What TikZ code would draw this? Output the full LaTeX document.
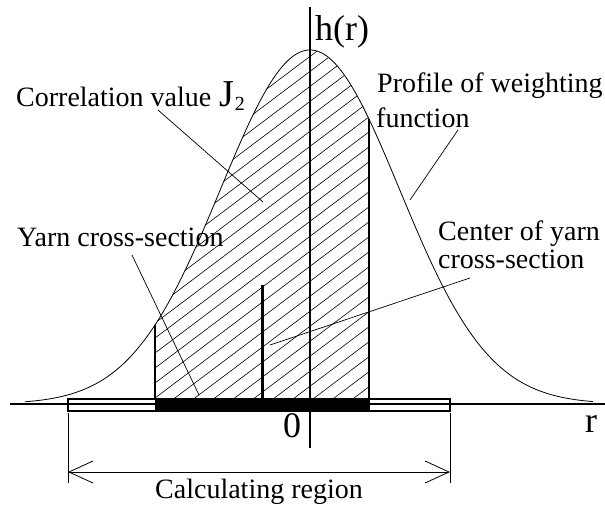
\documentclass[tikz,border=0pt]{standalone}
\usepackage{fontspec}
\setmainfont{Liberation Serif}
\usetikzlibrary{arrows.meta}
\begin{document}
\begin{tikzpicture}[x=1pt,y=-1pt,
  declare function={g(\x)=404-354*exp(-0.5*((\x-310)/89.5)^2);},
  lbl/.style={font=\fontsize{28}{30}\selectfont, inner sep=0pt, anchor=base west},
  sym/.style={font=\fontsize{36}{37}\selectfont, inner sep=0pt, anchor=base},
  leader/.style={line width=0.7pt},
  curvestyle/.style={line width=0.8pt},
  axis/.style={line width=1.2pt},
  hatchline/.style={line width=0.6pt}]
\useasboundingbox (0,0) rectangle (605,507);
% hatching
\begin{scope}
  \clip (155,399) -- plot[domain=155:369,samples=60] (\x,{g(\x)}) -- (369,399) -- cycle;
  \foreach \k in {0,...,28}
    \draw[hatchline] ({-179.3+19.9*\k},410) -- ++(600,-452);
\end{scope}
% region edges
\draw[line width=1.2pt] (155,{g(155)}) -- (155,399);
\draw[line width=1.2pt] (369,{g(369)}) -- (369,399);
% curve
\draw[curvestyle] plot[domain=25:593,samples=150,smooth] (\x,{g(\x)});
% axes
\coordinate (xa0) at (10,404);
\coordinate (xa1) at (605,404);
\coordinate (ya0) at (310,448);
\coordinate (ya1) at (310,7);
\draw[axis] (xa0) -- (xa1);
\draw[axis] (ya0) -- (ya1);
% box
\fill[black] (155,399) rectangle (370,411);
\draw[line width=2pt] (68,399) rectangle (450,411);
% yarn center
\coordinate (yc0) at (262,399);
\coordinate (yct) at (262,285);
\draw[line width=3pt] (yc0) -- (yct);
% dimension
\coordinate (dl0) at (68,413);
\coordinate (dl1) at (68,483);
\coordinate (dr0) at (450,413);
\coordinate (dr1) at (450,483);
\coordinate (dL) at (68,472);
\coordinate (dR) at (450,472);
\draw[line width=0.8pt] (dl0) -- (dl1);
\draw[line width=0.8pt] (dr0) -- (dr1);
\draw[line width=0.8pt,{Straight Barb[length=24pt,width=22pt,line width=0.8pt]}-{Straight Barb[length=24pt,width=22pt,line width=0.8pt]}] (dL) -- (dR);
% labels
\node[lbl] (corr) at (16,106) {Correlation value};
\node[inner sep=0pt, anchor=base west, font=\fontsize{38}{39}\selectfont] (j2) at (219,106) {J\hspace{1pt}\raisebox{-4pt}{\fontsize{20}{21}\selectfont 2}};
\node[lbl] (prof1) at (377,92) {Profile of weighting};
\node[lbl] (prof2) at (376,127) {function};
\node[lbl] (yarn) at (17,246) {Yarn cross-section};
\node[lbl] (cen1) at (438,240) {Center of yarn};
\node[lbl] (cen2) at (438,268) {cross-section};
\node[lbl, anchor=base] (calc) at (259,498) {Calculating region};
\node[sym, anchor=base west] (hr) at (315,40) {h(r)};
\node[sym] (zero) at (292,437) {0};
\node[sym] (rr) at (591,432) {r};
% leaders
\coordinate (cv1) at (158,110);
\coordinate (cv2) at (263,202);
\coordinate (pf1) at (458,130);
\coordinate (pf2) at (410,200);
\coordinate (ys1) at (132,255);
\coordinate (ys2) at (199,395);
\coordinate (cc1) at (470,278);
\coordinate (cc2) at (270,345);
\draw[leader] (cv1) -- (cv2);
\draw[leader] (pf1) -- (pf2);
\draw[leader] (ys1) -- (ys2);
\draw[leader] (cc1) -- (cc2);
\end{tikzpicture}
\end{document}
